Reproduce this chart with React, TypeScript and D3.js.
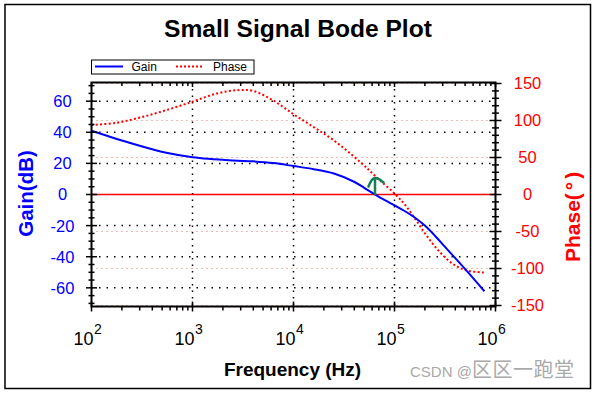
import React from "react";
import * as d3 from "d3";

// ---- data ----
const gainFreq = [100, 257, 550, 1000, 2512, 3981, 6310, 10000, 15850, 25120, 39810, 50120, 63100, 79430, 100000, 125900, 158500, 199500, 251200, 316200, 501200, 776200];
const gainDb = [41, 32.6, 26.8, 24, 21.9, 21.3, 20.2, 18.3, 16.3, 13.5, 8.2, 4.3, 0.3, -3.5, -7.0, -10.6, -14.8, -20, -26.5, -33.7, -48, -62.2];

const phaseFreq = [100, 178, 302, 550, 1000, 1740, 2818, 3981, 6310, 10000, 15850, 24550, 45700, 66070, 102300, 131800, 166000, 208900, 281800, 380200, 512900, 776200];
const phaseDeg = [94, 97, 104, 114, 125.5, 136.5, 141, 140, 127, 108.5, 91, 74, 44, 23.6, 0, -16.6, -36, -56, -78, -94, -102.5, -105.5];

const decades = [100, 1000, 10000, 100000, 1000000];
const decadeExp = ["2", "3", "4", "5", "6"];
const gainTicks = [60, 40, 20, 0, -20, -40, -60];
const phaseTicks = [150, 100, 50, 0, -50, -100, -150];

const FONT = "'Liberation Sans', Arial, sans-serif";

export default function App() {
  const L = 91.5, R = 495.5, T = 82.5, B = 306.5;
  const x = d3.scaleLog().domain([100, 1e6]).range([L, R]);
  const yG = d3.scaleLinear().domain([-72, 72]).range([B, T]);
  const yP = d3.scaleLinear().domain([-150, 150]).range([305.5, 83.5]);

  const gainLine = d3
    .line<number>()
    .x((_, i) => x(gainFreq[i]))
    .y((d) => yG(d))
    .curve(d3.curveCatmullRom.alpha(0.5))(gainDb) as string;
  const phaseLine = d3
    .line<number>()
    .x((_, i) => x(phaseFreq[i]))
    .y((d) => yP(d))
    .curve(d3.curveCatmullRom.alpha(0.5))(phaseDeg) as string;

  const minorX: number[] = [];
  for (let e = 2; e < 6; e++) for (let m = 2; m <= 9; m++) minorX.push(m * Math.pow(10, e));
  const minorG = d3.range(-70, 71, 5);
  const minorP = d3.range(-150, 151, 10);

  return (
    <svg width={596} height={393} style={{ display: "block", position: "absolute", left: 0, top: 0 }}>
      <rect x={0} y={0} width={596} height={393} fill="#fff" />
      <rect x={5} y={4.5} width={585.5} height={384} fill="none" stroke="#000" strokeWidth={1.5} />

      <text x={298} y={37} textAnchor="middle" fontFamily={FONT} fontWeight="bold" fontSize={24.6}>
        Small Signal Bode Plot
      </text>

      {/* legend */}
      <rect x={91.5} y={60} width={162.5} height={14} fill="#fff" stroke="#000" strokeWidth={1} />
      <line x1={95} x2={123} y1={66.5} y2={66.5} stroke="#0000ff" strokeWidth={2} />
      <text x={131.5} y={71} fontFamily={FONT} fontSize={12}>Gain</text>
      <line x1={176} x2={203} y1={66.5} y2={66.5} stroke="#ff0000" strokeWidth={2} strokeDasharray="2 2" />
      <text x={213} y={71} fontFamily={FONT} fontSize={12}>Phase</text>

      {/* grids */}
      {phaseTicks.filter((p) => p !== 0).map((p) => (
        <line key={"pg" + p} x1={L} x2={R} y1={yP(p)} y2={yP(p)} stroke="#e07a66" strokeWidth={1} strokeDasharray="1 4" />
      ))}
      {gainTicks.filter((g) => g !== 0).map((g) => (
        <line key={"gg" + g} x1={L} x2={R} y1={yG(g)} y2={yG(g)} stroke="#000" strokeWidth={1.5} strokeDasharray="1.5 6" />
      ))}
      {decades.slice(1, 4).map((f) => (
        <line key={"vg" + f} x1={x(f)} x2={x(f)} y1={T} y2={B} stroke="#000" strokeWidth={1.5} strokeDasharray="1.5 5" />
      ))}

      {/* zero line */}
      <line x1={L} x2={R} y1={yG(0)} y2={yG(0)} stroke="#ff0000" strokeWidth={1.5} />

      {/* curves */}
      <path d={phaseLine} fill="none" stroke="#ff0000" strokeWidth={2} strokeDasharray="2 2.3" />
      <path d={gainLine} fill="none" stroke="#0000ff" strokeWidth={2} />

      {/* annotation arrow */}
      <path d="M375,194 L375,179 M368.5,186.5 Q372,177 376,178 Q380,179 383.5,182.5" fill="none" stroke="#12805a" strokeWidth={2.5} strokeLinecap="round" />

      {/* frame */}
      <rect x={L} y={T} width={R - L} height={B - T} fill="none" stroke="#000" strokeWidth={2} />

      {/* x ticks */}
      {decades.map((f) => (
        <g key={"xt" + f}>
          <line x1={x(f)} x2={x(f)} y1={301.5} y2={311.5} stroke="#000" strokeWidth={1.5} />
          <line x1={x(f)} x2={x(f)} y1={T} y2={87} stroke="#000" strokeWidth={1.5} />
        </g>
      ))}
      {minorX.map((f) => (
        <g key={"xm" + f}>
          <line x1={x(f)} x2={x(f)} y1={B} y2={310.5} stroke="#000" strokeWidth={1.5} />
          <line x1={x(f)} x2={x(f)} y1={T} y2={86} stroke="#000" strokeWidth={1.5} />
        </g>
      ))}

      {/* left gain ticks */}
      {minorG.map((g) => (
        <line key={"gm" + g} x1={g % 20 === 0 ? 86 : 88.5} x2={g % 20 === 0 ? 97 : 94.5} y1={yG(g)} y2={yG(g)} stroke="#000" strokeWidth={1.5} />
      ))}
      {/* right phase ticks */}
      {minorP.map((p) => (
        <line key={"pm" + p} x1={p % 50 === 0 ? 489.5 : 492} x2={p % 50 === 0 ? 501.5 : 499} y1={yP(p)} y2={yP(p)} stroke="#000" strokeWidth={1.5} />
      ))}

      {/* tick labels */}
      {gainTicks.map((g) => (
        <text key={"gl" + g} x={62.5} y={yG(g)} dy="0.36em" textAnchor="middle" fontFamily={FONT} fontSize={16.5} fill="#0000ff">
          {g}
        </text>
      ))}
      {phaseTicks.map((p) => (
        <text key={"pl" + p} x={527.5} y={yP(p)} dy="0.36em" textAnchor="middle" fontFamily={FONT} fontSize={16.5} fill="#ff0000">
          {p}
        </text>
      ))}
      {decades.map((f, i) => (
        <g key={"xl" + f}>
          <text x={x(f) + 2} y={344.5} textAnchor="end" fontFamily={FONT} fontSize={18}>10</text>
          <text x={x(f) + 2.5} y={334} fontFamily={FONT} fontSize={14}>{decadeExp[i]}</text>
        </g>
      ))}

      {/* axis titles */}
      <text x={292.5} y={376} textAnchor="middle" fontFamily={FONT} fontWeight="bold" fontSize={19}>
        Frequency (Hz)
      </text>
      <text transform="translate(33,193.5) rotate(-90)" textAnchor="middle" fontFamily={FONT} fontWeight="bold" fontSize={20.5} fill="#0000ff">
        Gain(dB)
      </text>
      <text transform="translate(580,262) rotate(-90)" textAnchor="start" fontFamily={FONT} fontWeight="bold" fontSize={21} fill="#ff0000">
        Phase(<tspan dx={3}>°</tspan><tspan dx={3}>)</tspan>
      </text>

      {/* watermark */}
      <text x={410} y={377} fontFamily={"'Liberation Sans', 'Noto Sans CJK SC', sans-serif"} fontSize={15} fill="#a9a9a9">
        CSDN @<tspan fontSize={20} letterSpacing={0.5}>区区一跑堂</tspan>
      </text>
    </svg>
  );
}
